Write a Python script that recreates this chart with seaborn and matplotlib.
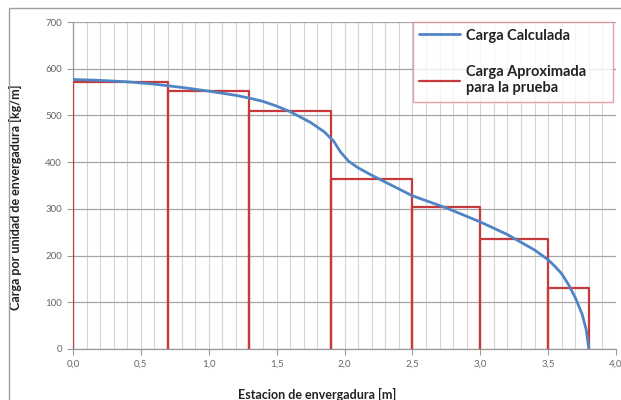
import numpy as np
import matplotlib
matplotlib.use("Agg")
import matplotlib.pyplot as plt
from matplotlib.ticker import MultipleLocator, FuncFormatter
from matplotlib.patches import Rectangle
import pandas as pd
import seaborn as sns

# calculated load curve
calc_x = [0.0, 0.2, 0.4, 0.6, 0.8, 1.0, 1.2, 1.3, 1.4, 1.5, 1.6, 1.75, 1.85,
          1.92, 1.97, 2.03, 2.1, 2.2, 2.35, 2.5, 2.75, 3.0, 3.2, 3.4, 3.5,
          3.55, 3.6, 3.65, 3.7, 3.75, 3.78, 3.8]
calc_y = [577, 575, 572, 567, 560, 552, 543, 537, 530, 520, 508, 485, 465,
          445, 422, 402, 388, 372, 350, 328, 302, 272, 245, 212, 191,
          177, 161, 138, 110, 75, 42, 0]

# approximated load blocks for the test
block_edges = [0.0, 0.7, 1.3, 1.9, 2.5, 3.0, 3.5, 3.8]
block_loads = [572, 553, 510, 363, 304, 235, 131]

label_calc = "Carga Calculada"
label_aprox = "Carga Aproximada\npara la prueba"

# build the outline path of the blocks (each block drawn down to zero)
step_x, step_y = [], []
for i, load in enumerate(block_loads):
    x0, x1 = block_edges[i], block_edges[i + 1]
    step_x += [x0, x0, x1, x1]
    step_y += [0, load, load, 0]

df_calc = pd.DataFrame({"x": calc_x, "y": calc_y})
df_step = pd.DataFrame({"x": step_x, "y": step_y})

sns.set_theme(style="white")
plt.rcParams['font.family'] = ['Lato', 'DejaVu Sans']

fig = plt.figure(figsize=(6.21, 4.0), dpi=100)
ax = fig.add_axes([73 / 621, 1 - 349 / 400, 543 / 621, 327 / 400])

blue = "#4f85c4"
red = "#c8393b"

sns.lineplot(data=df_calc, x="x", y="y", sort=False, estimator=None,
             color=blue, linewidth=2.0, ax=ax, label=label_calc, zorder=4)
sns.lineplot(data=df_step, x="x", y="y", sort=False, estimator=None,
             color=red, linewidth=1.6, ax=ax, label=label_aprox, zorder=3)

ax.set_xlim(0, 4.0)
ax.set_ylim(0, 700)
ax.xaxis.set_major_locator(MultipleLocator(0.5))
ax.xaxis.set_minor_locator(MultipleLocator(0.1))
ax.yaxis.set_major_locator(MultipleLocator(100))
ax.xaxis.set_major_formatter(FuncFormatter(lambda v, p: f"{v:.1f}".replace(".", ",")))

ax.grid(which="major", axis="y", color="#a6a6a6", linewidth=0.9)
ax.grid(which="both", axis="x", color="#d4d4d4", linewidth=0.8)
ax.set_axisbelow(True)

for s in ["top", "right"]:
    ax.spines[s].set_visible(False)
for s in ["left", "bottom"]:
    ax.spines[s].set_color("#9a9a9a")
    ax.spines[s].set_linewidth(0.9)

ax.tick_params(axis="both", which="major", direction="out", length=4,
               width=0.8, color="#9a9a9a", labelsize=7, labelcolor="#666666",
               pad=4, left=True, bottom=True)
ax.tick_params(axis="x", which="minor", length=0)

ax.set_xlabel("Estacion de envergadura [m]", fontsize=9, fontweight="bold",
              color="#222222")
ax.set_ylabel("Carga por unidad de envergadura [kg/m]", fontsize=9,
              fontweight="bold", color="#222222")
ax.xaxis.set_label_coords((317 - 73) / 543, (349 - 388) / 327)
ax.yaxis.set_label_coords((22 - 73) / 543, (349 - 197) / 327)

leg = ax.legend(loc="upper left", bbox_to_anchor=(0.626, 1.0, 0.368, 0.0),
                mode="expand", fontsize=10.5, frameon=True, fancybox=False,
                edgecolor="#d98a94", handlelength=2.8, handletextpad=0.4,
                labelspacing=1.55, borderpad=0.45, borderaxespad=0.0)
leg.get_frame().set_linewidth(1.0)
for t in leg.get_texts():
    t.set_fontweight("bold")
    t.set_color("#222222")

# outer chart border
fig.patches.append(Rectangle((9 / 621, -0.02), 1.0, 1 - 8 / 400 + 0.02,
                             transform=fig.transFigure, fill=False,
                             edgecolor="#a0a0a0", linewidth=1.0))

fig.savefig("out.png", dpi=100, facecolor="white")
